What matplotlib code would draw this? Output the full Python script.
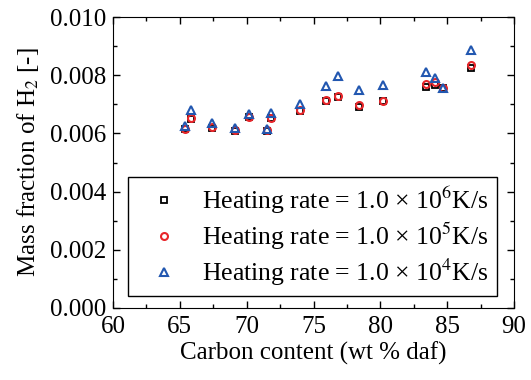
import matplotlib
matplotlib.use('Agg')
import matplotlib.pyplot as plt
from matplotlib.ticker import MultipleLocator

plt.rcParams['font.family'] = ['Liberation Serif', 'DejaVu Serif']
plt.rcParams['mathtext.fontset'] = 'stix'

# carbon content (wt % daf)
carbon = [65.4, 65.8, 67.4, 69.1, 70.2, 71.5, 71.8, 74.0, 75.9, 76.85, 78.4, 80.2, 83.4, 84.1, 84.7, 86.8]
# mass fraction of H2 for three heating rates
h2_1e6 = [0.00615, 0.00650, 0.00620, 0.00610, 0.00655, 0.00608, 0.00652, 0.00678, 0.00710, 0.00727, 0.00690, 0.00710, 0.00760, 0.00766, 0.00755, 0.00826]
h2_1e5 = [0.00617, 0.00654, 0.00621, 0.00612, 0.00656, 0.00611, 0.00654, 0.00680, 0.00714, 0.00729, 0.00699, 0.00712, 0.00769, 0.00778, 0.00757, 0.00835]
h2_1e4 = [0.00626, 0.00680, 0.00635, 0.00620, 0.00667, 0.00617, 0.00670, 0.00700, 0.00763, 0.00796, 0.00748, 0.00765, 0.00812, 0.00791, 0.00757, 0.00887]

labels = ['Heating rate = 1.0 \u00d7 10$^{6}$K/s',
          'Heating rate = 1.0 \u00d7 10$^{5}$K/s',
          'Heating rate = 1.0 \u00d7 10$^{4}$K/s']

fig = plt.figure(figsize=(5.31, 3.80), dpi=100)
ax = fig.add_axes([0.2128, 0.1895, 0.7552, 0.7655])

ax.plot(carbon, h2_1e6, 's', ms=4.5, mfc='none', mec='black', mew=1.3, label=labels[0])
ax.plot(carbon, h2_1e5, 'o', ms=5, mfc='none', mec='#e8262a', mew=1.5, label=labels[1])
ax.plot(carbon, h2_1e4, '^', ms=6, mfc='none', mec='#2257b0', mew=1.5, label=labels[2])

ax.set_xlim(60, 90)
ax.set_ylim(0, 0.010)
ax.xaxis.set_major_locator(MultipleLocator(5))
ax.xaxis.set_minor_locator(MultipleLocator(2.5))
ax.yaxis.set_major_locator(MultipleLocator(0.002))
ax.yaxis.set_minor_locator(MultipleLocator(0.001))
ax.yaxis.set_major_formatter(matplotlib.ticker.FormatStrFormatter('%.3f'))
ax.tick_params(which='both', direction='in', top=True, right=True, labelsize=18, width=1)
ax.tick_params(which='major', length=5)
ax.tick_params(which='minor', length=3)
ax.tick_params(axis='x', pad=6)
ax.tick_params(axis='y', pad=5)

ax.set_xlabel('Carbon content (wt % daf)', fontsize=18, labelpad=2)
ax.set_ylabel(r'Mass fraction of H$_2$ [-]', fontsize=18, labelpad=6)

leg = ax.legend(loc='lower left', bbox_to_anchor=(0.037, 0.041), fontsize=18.5,
                frameon=True, fancybox=False, edgecolor='black', framealpha=1,
                borderaxespad=0, borderpad=0.3, handlelength=2.25, handletextpad=0.35,
                labelspacing=0.2)
leg.get_frame().set_linewidth(1)

fig.savefig('out.png', dpi=100)
